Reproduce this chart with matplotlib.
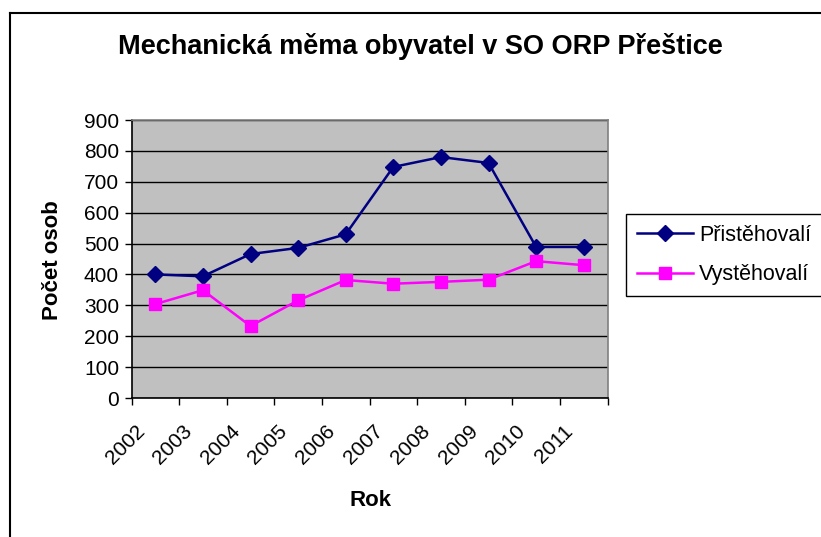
import matplotlib
matplotlib.use("Agg")
import matplotlib.pyplot as plt
from matplotlib.lines import Line2D
import matplotlib.transforms as mtransforms

plt.rcParams['font.family'] = ['Liberation Sans', 'DejaVu Sans']

years = ['2002', '2003', '2004', '2005', '2006', '2007', '2008', '2009', '2010', '2011']
pristehovali = [400, 394, 466, 486, 530, 748, 780, 761, 489, 489]
vystehovali = [304, 349, 233, 316, 382, 370, 376, 383, 443, 430]
yticks = [0, 100, 200, 300, 400, 500, 600, 700, 800, 900]

fig = plt.figure(figsize=(8.21, 5.37), dpi=100)
W, H = 821, 537
ax = fig.add_axes([131.5 / W, (H - 398) / H, 476 / W, 278 / H])
ax.set_facecolor('#C0C0C0')

x = list(range(len(years)))
ax.plot(x, pristehovali, color='#000080', marker='D', markersize=8, linewidth=1.8,
        label='Přistěhovalí')
ax.plot(x, vystehovali, color='#FF00FF', marker='s', markersize=9, linewidth=1.8,
        label='Vystěhovalí')

ax.set_xlim(-0.5, len(years) - 0.5)
ax.set_ylim(0, 900)
ax.set_yticks(yticks)
ax.set_yticklabels([str(t) for t in yticks], fontsize=15)
ax.yaxis.grid(True, color='black', linewidth=1)
ax.set_axisbelow(True)

ax.set_xticks([i - 0.5 for i in range(len(years) + 1)], minor=False)
ax.set_xticklabels([''] * (len(years) + 1))
ax.set_xticks(x, minor=True)
ax.set_xticklabels(years, minor=True, rotation=45, ha='right', va='top', fontsize=15)
ax.tick_params(axis='x', which='minor', length=0, pad=17)
ax.tick_params(axis='x', which='major', length=5, width=1, direction='out')
ax.tick_params(axis='y', length=5, width=1, direction='out', pad=4)
offset = mtransforms.ScaledTranslation(-5 / 72, 0, fig.dpi_scale_trans)
for lab in ax.xaxis.get_minorticklabels():
    lab.set_transform(lab.get_transform() + offset)

for s in ['top', 'right']:
    ax.spines[s].set_color('#808080')
    ax.spines[s].set_linewidth(1.2)
for s in ['left', 'bottom']:
    ax.spines[s].set_color('black')
    ax.spines[s].set_linewidth(1.2)

fig.text(420 / W, 1 - 46 / H, 'Mechanická měma obyvatel v SO ORP Přeštice',
         ha='center', va='center', fontsize=19.5, fontweight='bold')
fig.text(52 / W, 1 - 260 / H, 'Počet osob', rotation=90, ha='center', va='center',
         fontsize=16, fontweight='bold')
fig.text(370 / W, 1 - 500 / H, 'Rok', ha='center', va='center',
         fontsize=16, fontweight='bold')

leg = fig.legend(loc='center', bbox_to_anchor=(724 / W, 1 - 255 / H), fontsize=15.5,
                 frameon=True, fancybox=False, edgecolor='black', framealpha=1,
                 handlelength=2.6, borderpad=0.5, labelspacing=0.85, handletextpad=0.3,
                 borderaxespad=0)
leg.get_frame().set_linewidth(1)

fig.add_artist(Line2D([9.5 / W, 9.5 / W], [0, 1 - 12.5 / H], transform=fig.transFigure,
                      color='black', linewidth=1.5))
fig.add_artist(Line2D([9.5 / W, 1], [1 - 12.5 / H, 1 - 12.5 / H], transform=fig.transFigure,
                      color='black', linewidth=1.5))

fig.savefig('out.png', dpi=100)
